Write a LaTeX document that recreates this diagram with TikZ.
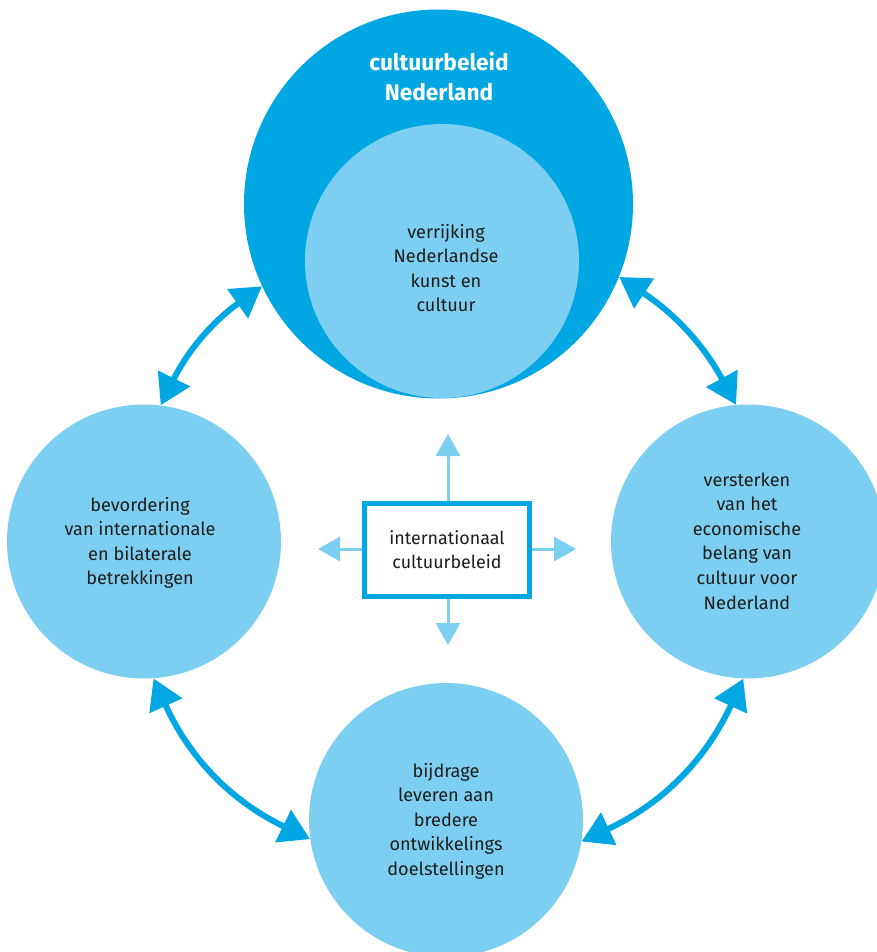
\documentclass[tikz,border=0pt]{standalone}
\usepackage{fontspec}
\setmainfont{Fira Sans}
\usetikzlibrary{arrows.meta}
\definecolor{darkblue}{HTML}{00A7E3}
\definecolor{lightblue}{HTML}{7DCFF2}
\definecolor{textgray}{HTML}{1D1D1B}
\tikzset{
  bigcircle/.style={circle, fill=darkblue, draw=none, inner sep=0pt, minimum size=291.75pt},
  topiccircle/.style={circle, fill=lightblue, draw=none, inner sep=0pt, minimum size=205.5pt},
  topictext/.style={align=center, text=textgray, inner sep=0pt, font=\fontsize{13.6}{18.4}\selectfont},
  titletext/.style={align=center, text=white, font=\bfseries\fontsize{17}{22.5}\selectfont},
  centerbox/.style={rectangle, draw=darkblue, line width=3.75pt, fill=white, inner sep=0pt,
    minimum width=123.75pt, minimum height=69.75pt, align=center, text=textgray,
    font=\fontsize{13.4}{18}\selectfont},
  linkarrow/.style={draw=darkblue, line width=4.5pt,
    {Triangle[length=22.5pt, width=26pt]}-{Triangle[length=22.5pt, width=26pt]}},
  outarrow/.style={draw=lightblue, line width=2.25pt, -{Triangle[length=16.5pt, width=18pt]}}
}
\begin{document}
\begin{tikzpicture}[x=0.75pt, y=-0.75pt]
\useasboundingbox (0,0) rectangle (877,952);
% top circles
\node[bigcircle] (beleid) at (438.5,204) {};
\node[titletext] (title) at (439,77) {cultuurbeleid\\Nederland};
\node[topiccircle] (verrijking) at (442,261) {};
\node[topictext] (verrijkingtext) at (446,268) {verrijking\\Nederlandse\\kunst en\\cultuur};
% outer topics
\node[topiccircle] (links) at (144,541.5) {};
\node[topictext] (linkstext) at (140,543) {bevordering\\van internationale\\en bilaterale\\betrekkingen};
\node[topiccircle] (rechts) at (748,541.5) {};
\node[topictext] (rechtstext) at (747,541) {versterken\\van het\\economische\\belang van\\cultuur voor\\Nederland};
\node[topiccircle] (onder) at (446,820) {};
\node[topictext] (ondertext) at (446,821) {bijdrage\\leveren aan\\bredere\\ontwikkelings\\doelstellingen};
% center box
\node[centerbox] (intl) at (447,550) {internationaal\\cultuurbeleid};
\coordinate (upTip) at (448,434);
\coordinate (downTip) at (448,645);
\coordinate (leftTip) at (318,549);
\coordinate (rightTip) at (576,549);
\draw[outarrow] (intl.north -| upTip) -- (upTip);
\draw[outarrow] (intl.south -| downTip) -- (downTip);
\draw[outarrow] (intl.west |- leftTip) -- (leftTip);
\draw[outarrow] (intl.east |- rightTip) -- (rightTip);
% curved double arrows
\draw[linkarrow] (beleid.205) to[bend right=14] (links.83);
\draw[linkarrow] (beleid.338) to[bend left=14] (rechts.95);
\draw[linkarrow] (links.274.6) to[bend right=20] (onder.188);
\draw[linkarrow] (rechts.268) to[bend left=20] (onder.351);
\end{tikzpicture}
\end{document}
